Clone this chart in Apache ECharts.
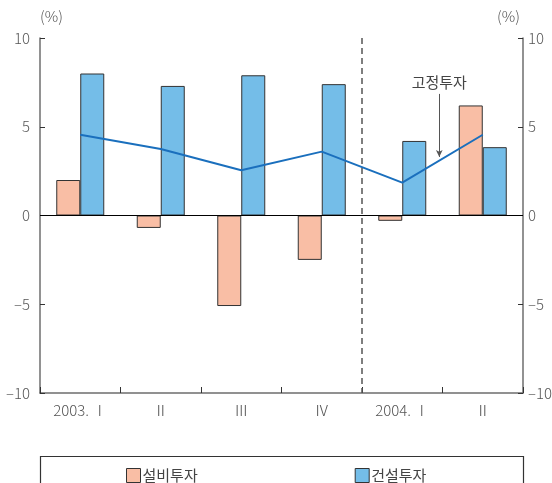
<!DOCTYPE html>
<html>
<head>
<meta charset="utf-8">
<script src="https://cdn.jsdelivr.net/npm/echarts@6/dist/echarts.min.js"></script>
<style>
  html, body { margin: 0; padding: 0; background: #fff; }
  #chart { width: 552px; height: 483px; }
</style>
</head>
<body>
<div id="chart"></div>
<script>
// Quarterly investment growth (%, q/q)
const quarters = ['2003. Ⅰ', 'Ⅱ', 'Ⅲ', 'Ⅳ', '2004. Ⅰ', 'Ⅱ'];
const equipment = [2.0, -0.7, -5.1, -2.5, -0.3, 6.2];      // 설비투자
const construction = [8.0, 7.3, 7.9, 7.4, 4.2, 3.85];      // 건설투자
const fixedInvest = [4.55, 3.75, 2.55, 3.6, 1.85, 4.55];   // 고정투자
const yTicks = { min: -10, max: 10, step: 5 };

const FONT = '"Noto Sans CJK KR", "Noto Sans", sans-serif';
const AXIS_GRAY = '#6e6e6e';
const TEXT_GRAY = '#555';

const chart = echarts.init(document.getElementById('chart'), null, { renderer: 'canvas' });

const yAxisBase = {
  type: 'value',
  min: yTicks.min,
  max: yTicks.max,
  interval: yTicks.step,
  name: '(%)',
  nameLocation: 'end',
  nameGap: 14,
  splitLine: { show: false },
  axisLine: { show: true, lineStyle: { color: AXIS_GRAY, width: 1.5 } },
  axisTick: { show: true, inside: true, length: 5, lineStyle: { color: '#333' } },
  axisLabel: {
    color: TEXT_GRAY, fontSize: 15, fontFamily: FONT, fontWeight: 300, margin: 10,
    formatter: v => String(v).replace('-', '–')
  }
};

chart.setOption({
  animation: false,
  grid: { left: 40, right: 29, top: 38, bottom: 90, outerBoundsMode: 'none', containLabel: false },
  legend: {
    data: ['설비투자', '건설투자'],
    left: 126,
    top: 468,
    padding: 0,
    itemWidth: 14,
    itemHeight: 14,
    itemGap: 157,
    icon: 'rect',
    textStyle: { color: '#444', fontSize: 15, fontFamily: FONT, padding: [0, 0, 0, -3] },
    itemStyle: { borderColor: '#333', borderWidth: 1 }
  },
  graphic: [{
    type: 'rect',
    left: 38, top: 454,
    shape: { width: 483, height: 40 },
    style: { fill: 'none', stroke: '#333', lineWidth: 1.2 },
    silent: true
  }],
  xAxis: [{
    type: 'category',
    data: quarters,
    boundaryGap: true,
    axisLine: { onZero: false, lineStyle: { color: AXIS_GRAY, width: 1.5 } },
    axisTick: { show: true, inside: true, length: 6, lineStyle: { color: '#333' } },
    axisLabel: { color: TEXT_GRAY, fontSize: 15, fontFamily: FONT, fontWeight: 300, margin: 10 }
  }, {
    // helper axis spanning the six quarter slots, used for the divider and the annotation
    type: 'value',
    min: 0,
    max: quarters.length,
    show: false
  }],
  yAxis: [
    Object.assign({}, yAxisBase, {
      position: 'left',
      nameTextStyle: { color: TEXT_GRAY, fontSize: 15, fontFamily: FONT, fontWeight: 300, align: 'left', padding: [0, 0, 0, 0] }
    }),
    Object.assign({}, yAxisBase, {
      position: 'right',
      axisLabel: Object.assign({}, yAxisBase.axisLabel, { margin: 5 }),
      nameTextStyle: { color: TEXT_GRAY, fontSize: 15, fontFamily: FONT, fontWeight: 300, align: 'right', padding: [0, 3, 0, 0] }
    })
  ],
  series: [
    {
      name: '설비투자',
      type: 'bar',
      data: equipment,
      barWidth: 24,
      barGap: '0%',
      itemStyle: { color: '#f9bea5', borderColor: '#333', borderWidth: 1 },
      markLine: {
        silent: true,
        symbol: 'none',
        label: { show: false },
        lineStyle: { color: '#000', type: 'solid', width: 1.2 },
        data: [{ yAxis: 0 }]
      },
      z: 2
    },
    {
      name: '건설투자',
      type: 'bar',
      data: construction,
      barWidth: 24,
      itemStyle: { color: '#74bde8', borderColor: '#333', borderWidth: 1 },
      z: 2
    },
    {
      name: '고정투자',
      type: 'line',
      data: fixedInvest,
      symbol: 'none',
      lineStyle: { color: '#1a6fbd', width: 2 },
      z: 4
    },
    {
      // divider between 2003 and 2004, plus the callout for the fixed-investment line
      type: 'line',
      xAxisIndex: 1,
      yAxisIndex: 0,
      data: [],
      silent: true,
      markLine: {
        silent: true,
        animation: false,
        data: [
          [
            { coord: [4, yTicks.max], symbol: 'none', lineStyle: { color: '#555', type: [6, 4], width: 1.5 }, label: { show: false } },
            { coord: [4, yTicks.min], symbol: 'none' }
          ],
          [
            { coord: [4.96, 6.85], symbol: 'none', lineStyle: { color: '#555', type: 'solid', width: 1 },
              label: { show: true, position: 'start', formatter: '고정투자', color: '#444', fontSize: 15, fontFamily: FONT, distance: 4 } },
            { coord: [4.96, 3.3], symbol: 'arrow', symbolSize: [5, 7] }
          ]
        ]
      }
    }
  ]
});
</script>
</body>
</html>
